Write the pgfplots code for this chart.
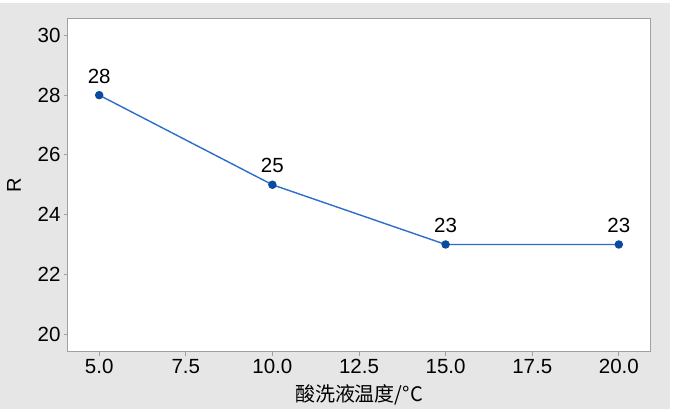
\documentclass[border=0pt]{standalone}
\usepackage{pgfplots}
\pgfplotsset{compat=1.18}
\usepackage{fontspec}
\setmainfont{Liberation Sans}
\newfontfamily\cjk{Noto Sans CJK SC}
\definecolor{bg}{RGB}{230,230,230}
\definecolor{framegray}{RGB}{160,160,160}
\definecolor{lineblue}{RGB}{45,110,200}
\definecolor{dotblue}{RGB}{10,75,160}
\begin{document}
\begin{tikzpicture}[x=1pt,y=1pt]
\useasboundingbox (0,0) rectangle (673,412);
\fill[bg] (0,3) rectangle (670,409);
\begin{axis}[at={(68pt,60pt)},anchor=south west,scale only axis,width=582pt,height=333pt,
  xmin=4.1,xmax=20.9,ymin=19.4,ymax=30.55,
  xtick={5,7.5,10,12.5,15,17.5,20},ytick={20,22,24,26,28,30},
  xticklabel style={/pgf/number format/.cd,fixed,fixed zerofill,precision=1},
  /pgf/number format/assume math mode=true,
  tick label style={font=\fontsize{20.5}{22}\selectfont},
  axis background/.style={fill=white},
  axis line style={framegray,line width=1pt},
  tick style={framegray,line width=0.8pt},
  tick align=outside,major tick length=4pt,tick pos=left,
  xlabel={\cjk 酸洗液温度/°C},ylabel={R},
  label style={font=\fontsize{20}{22}\selectfont},
  xlabel style={at={(axis description cs:0.5,-0.129)},anchor=center},
  ylabel style={at={(axis description cs:-0.093,0.5)},anchor=center},
  nodes near coords,
  nodes near coords style={font=\fontsize{20.5}{22}\selectfont,anchor=south,inner sep=0pt,yshift=11pt,text=black},
  point meta=explicit symbolic]
\addplot[lineblue,line width=1.4pt,mark=*,mark size=3.5pt,mark options={fill=dotblue,draw=dotblue}]
  coordinates {(5,28)[28] (10,25)[25] (15,23)[23] (20,23)[23]};
\end{axis}
\end{tikzpicture}
\end{document}
